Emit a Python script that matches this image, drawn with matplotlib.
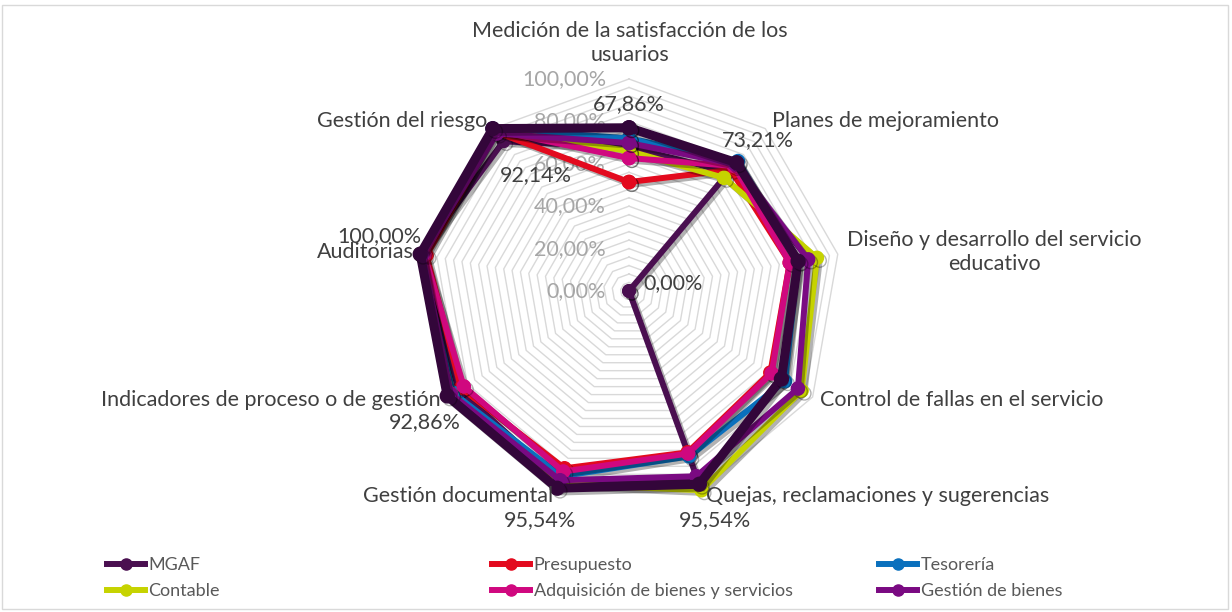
import numpy as np
import matplotlib.pyplot as plt
from matplotlib import patheffects as pe
from matplotlib.lines import Line2D

plt.rcParams["font.family"] = ["Lato", "DejaVu Sans"]

# ── Data ──────────────────────────────────────────────────────────────────────

categories = [
    "Medición de la satisfacción de los\nusuarios",
    "Planes de mejoramiento",
    "Diseño y desarrollo del servicio\neducativo",
    "Control de fallas en el servicio",
    "Quejas, reclamaciones y sugerencias",
    "Gestión documental",
    "Indicadores de proceso o de gestión",
    "Auditorias",
    "Gestión del riesgo",
]

mgaf           = [67.86, 73.21, 0.00, 0.00, 95.54, 95.54, 92.86, 100.00, 92.14]
presupuesto    = [51.4, 74.6, 77.0, 77.0, 81.0, 89.0, 91.5, 97.0, 98.0]
tesoreria      = [72.0, 80.0, 81.0, 85.0, 83.0, 93.0, 96.0, 100.0, 100.0]
contable       = [66.0, 69.7, 90.0, 94.0, 100.0, 97.0, 97.0, 100.0, 99.0]
adquisicion    = [62.7, 77.0, 77.0, 77.7, 81.6, 90.6, 90.0, 98.0, 99.0]
gestion_bienes = [69.8, 78.0, 85.8, 92.0, 93.0, 95.0, 97.0, 99.0, 97.0]
mgaf_max       = [77.0, 79.0, 81.0, 83.0, 97.0, 99.0, 99.0, 100.0, 100.0]

grid_levels = np.arange(4, 101, 4)
tick_levels = [0, 20, 40, 60, 80, 100]

# ── Styles ────────────────────────────────────────────────────────────────────

TXT = "#404040"
FS = 15.5
series = [
    # name, values, colour, linewidth, markersize
    ("MGAF",                             mgaf,           "#4a0f50", 4.3, 9.0),
    ("Presupuesto",                      presupuesto,    "#e30a1e", 4.3, 9.5),
    ("Tesorería",                        tesoreria,      "#0a70bd", 4.3, 9.5),
    ("Contable",                         contable,       "#c6d300", 4.3, 9.5),
    ("Adquisición de bienes y servicios", adquisicion,   "#d0087f", 4.3, 9.5),
    ("Gestión de bienes",                gestion_bienes, "#7a0a82", 4.3, 9.5),
    ("_total",                           mgaf_max,       "#33063a", 6.5, 10.0),
]

# pixel offsets of the MGAF data labels (None = hidden)
label_offsets = [(0, 43), (29, 32), (44, 8), None, (17, -39),
                 (-20, -39), (-34, -33), (-41, 18), (32, -34)]

# category label placement: offset from outer vertex, alignment
cat_place = [
    ((1, 14), "center", "bottom"),
    ((7, 8), "left", "center"),
    ((9, 2), "left", "center"),
    ((7, -3), "left", "center"),
    ((4, -6), "left", "center"),
    ((-3, -6), "right", "center"),
    ((-5, -3), "right", "center"),
    ((-6, 2), "right", "center"),
    ((-5, 8), "right", "center"),
]

# ── Figure ────────────────────────────────────────────────────────────────────

W, H = 1232, 612
fig = plt.figure(figsize=(W / 100, H / 100), dpi=100)
cx, cy, R = 629, 291, 212
ax = fig.add_axes([(cx - R) / W, (H - cy - R) / H, 2 * R / W, 2 * R / H],
                  projection="polar")
ax.set_theta_zero_location("N")
ax.set_theta_direction(-1)
ax.set_ylim(0, 100)
ax.grid(False)
ax.set_xticks([])
ax.set_yticks([])
ax.spines["polar"].set_visible(False)
ax.patch.set_alpha(0)

n = len(categories)
theta = np.linspace(0, 2 * np.pi, n, endpoint=False)
theta_c = np.append(theta, theta[0])

# polygon grid
for lv in grid_levels:
    ax.plot(theta_c, [lv] * (n + 1), color="#d9d9d9", lw=1.0, zorder=1,
            clip_on=False)

# radial tick labels
for lv in tick_levels:
    ax.annotate(f"{lv:.2f}%".replace(".", ","), xy=(0, lv),
                xytext=(-23, 0), textcoords="offset pixels",
                ha="right", va="center", fontsize=FS, color="#a6a6a6",
                zorder=2)

# series
shadow = [pe.SimpleLineShadow(offset=(2, -2), shadow_color="black", alpha=0.3),
          pe.Normal()]
for z, (name, vals, col, lw, ms) in enumerate(series):
    v = np.append(vals, vals[0])
    ax.plot(theta_c, v, color=col, lw=lw, marker="o", ms=ms,
            markeredgecolor=col, solid_joinstyle="miter", label=name,
            zorder=3 + z, clip_on=False, path_effects=shadow)

# data labels for MGAF
for t, val, off in zip(theta, mgaf, label_offsets):
    if off is None:
        continue
    ax.annotate(f"{val:.2f}%".replace(".", ","), xy=(t, val), xytext=off,
                textcoords="offset pixels", ha="center", va="center",
                fontsize=FS, color=TXT, zorder=20)

# category labels
for t, lab, (off, ha, va) in zip(theta, categories, cat_place):
    ax.annotate(lab, xy=(t, 100), xytext=off, textcoords="offset pixels",
                ha=ha, va=va, multialignment="center", linespacing=1.25,
                fontsize=FS, color=TXT, zorder=21)

# legend: three columns, two rows
handles = {name: Line2D([], [], color=col, lw=4.3, marker="o", ms=8,
                        markeredgecolor=col)
           for name, vals, col, lw, ms in series}
columns = [["MGAF", "Contable"],
           ["Presupuesto", "Adquisición de bienes y servicios"],
           ["Tesorería", "Gestión de bienes"]]
col_x = [107, 492, 879]
for names, x in zip(columns, col_x):
    leg = fig.legend([handles[nm] for nm in names], names, loc="upper left",
                     bbox_to_anchor=(x / W, 1 - 557 / H), frameon=False,
                     fontsize=13, handlelength=2.1, handletextpad=0.2,
                     labelspacing=0.55, borderpad=0, borderaxespad=0)
    for txt in leg.get_texts():
        txt.set_color("#595959")

# outer frame
fig.add_artist(plt.Rectangle((2 / W, 3 / H), 1226 / W, 604 / H,
                             transform=fig.transFigure, fill=False,
                             ec="#d9d9d9", lw=1))

fig.savefig("out.png", dpi=100)
